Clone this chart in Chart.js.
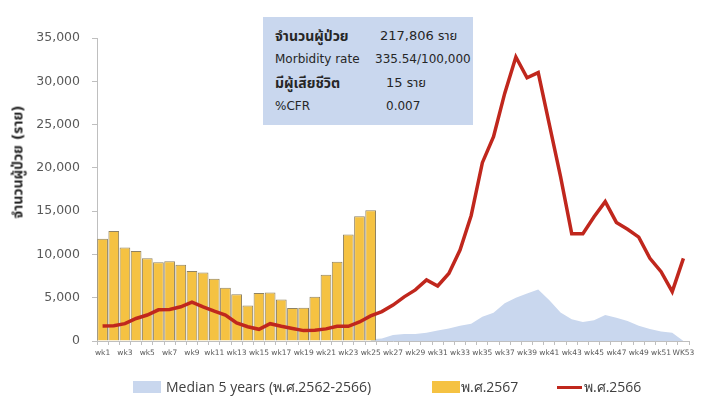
<!DOCTYPE html>
<html>
<head>
<meta charset="utf-8">
<script src="https://cdn.jsdelivr.net/npm/chart.js@4/dist/chart.umd.min.js"></script>
<style>
  html, body { margin: 0; padding: 0; background: #fff; }
  #wrap { position: relative; width: 703px; height: 401px; overflow: hidden;
          font-family: "DejaVu Sans", "Noto Sans Thai", "Tahoma", sans-serif; color: #262626; }
  #chart { position: absolute; left: 0; top: 0; }
  #yTitle { position: absolute; left: 18px; top: 162px; transform: translate(-50%, -50%) rotate(-90deg);
            white-space: nowrap; font-size: 14px; font-weight: bold; color: #262626; }
  #infoBox { position: absolute; left: 263px; top: 17px; width: 210px; height: 108px; background: #c9d7ee; }
  #infoBox div { position: absolute; white-space: nowrap; transform: translateY(-50%); }
  .legendItem { position: absolute; top: 387px; transform: translateY(-50%); font-family: "Open Sans", sans-serif;
                font-size: 14px; color: #404040; white-space: nowrap; }
  .swatch { position: absolute; }
</style>
</head>
<body>
<div id="wrap">
  <canvas id="chart" width="703" height="401"></canvas>
  <div id="yTitle">จำนวนผู้ป่วย (ราย)</div>
  <div id="infoBox"></div>
  <div id="legend"></div>
</div>
<script>
/* =========================
   DATA
   ========================= */

const weekLabels = [
  "wk1", "wk2", "wk3", "wk4", "wk5", "wk6", "wk7", "wk8", "wk9", "wk10",
  "wk11", "wk12", "wk13", "wk14", "wk15", "wk16", "wk17", "wk18", "wk19", "wk20",
  "wk21", "wk22", "wk23", "wk24", "wk25", "wk26", "wk27", "wk28", "wk29", "wk30",
  "wk31", "wk32", "wk33", "wk34", "wk35", "wk36", "wk37", "wk38", "wk39", "wk40",
  "wk41", "wk42", "wk43", "wk44", "wk45", "wk46", "wk47", "wk48", "wk49", "wk50",
  "wk51", "wk52", "WK53"
];

// พ.ศ.2567 (bars, wk1-wk25)
const cases2567 = [
  11800, 12700, 10800, 10400, 9550, 9100, 9200, 8800, 8100, 7900,
  7200, 6150, 5400, 4100, 5550, 5600, 4800, 3800, 3850, 5100,
  7650, 9150, 12300, 14400, 15100
];

// พ.ศ.2566 (line)
const cases2566 = [
  1730, 1770, 2000, 2600, 3000, 3600, 3650, 3950, 4500, 3950,
  3450, 3000, 2100, 1650, 1350, 2000, 1700, 1450, 1200, 1250,
  1400, 1700, 1700, 2200, 2900, 3400, 4150, 5100, 5900, 7050,
  6350, 7800, 10500, 14500, 20600, 23600, 28600, 32800, 30400, 31000,
  25000, 19000, 12400, 12400, 14350, 16100, 13700, 12900, 12000, 9550,
  8000, 5700, 9550
];

// Median 5 years (only visible part, right of the bars)
const median5y = [
  null, null, null, null, null, null, null, null, null, null,
  null, null, null, null, null, null, null, null, null, null,
  null, null, null, null, 200, 300, 700, 800, 800, 950,
  1200, 1450, 1750, 2000, 2800, 3250, 4350, 5000, 5500, 5950,
  4700, 3300, 2500, 2200, 2400, 3000, 2700, 2300, 1750, 1400,
  1100, 950, 0
];

const yTicks = [0, 5000, 10000, 15000, 20000, 25000, 30000, 35000];

const infoRows = [
  ["จำนวนผู้ป่วย", "217,806 ราย"],
  ["Morbidity rate", "335.54/100,000"],
  ["มีผู้เสียชีวิต", "15 ราย"],
  ["%CFR", "0.007"]
];

/* =========================
   INFO BOX
   ========================= */

const infoBox = document.getElementById("infoBox");
const rowY = [19, 42, 66, 89];
const valueX = [117, 112, 123, 123];
infoRows.forEach((r, i) => {
  const bold = i % 2 === 0;
  const a = document.createElement("div");
  a.textContent = r[0];
  a.style.left = "12px";
  a.style.top = rowY[i] + "px";
  a.style.fontSize = bold ? "14px" : "12px";
  a.style.fontWeight = bold ? "bold" : "normal";
  infoBox.appendChild(a);
  const b = document.createElement("div");
  b.textContent = r[1];
  b.style.left = valueX[i] + "px";
  b.style.top = rowY[i] + "px";
  b.style.fontSize = i === 0 || i === 2 ? "13px" : "12px";
  infoBox.appendChild(b);
});

/* =========================
   CHART
   ========================= */

const axisColor = "#bfbfbf";
const tickColor = "#595959";

const chart = new Chart(document.getElementById("chart"), {
  data: {
    labels: weekLabels,
    datasets: [
      {
        type: "line",
        label: "พ.ศ.2566",
        data: cases2566,
        borderColor: "#c0271d",
        backgroundColor: "#c0271d",
        borderWidth: 3.5,
        pointRadius: 0,
        tension: 0,
        order: 0
      },
      {
        type: "bar",
        label: "พ.ศ.2567",
        data: cases2567,
        backgroundColor: "#f5c242",
        borderColor: "#8f8262",
        borderWidth: 1,
        categoryPercentage: 1,
        barPercentage: 0.96,
        order: 1
      },
      {
        type: "line",
        label: "Median 5 years (พ.ศ.2562-2566)",
        data: median5y,
        backgroundColor: "#c9d7ee",
        borderColor: "#c9d7ee",
        borderWidth: 0,
        pointRadius: 0,
        fill: "origin",
        tension: 0,
        order: 2
      }
    ]
  },
  options: {
    responsive: false,
    animation: false,
    devicePixelRatio: 1,
    layout: { padding: { left: 0, right: 14, top: 38, bottom: 0 } },
    plugins: { legend: { display: false }, tooltip: { enabled: false } },
    scales: {
      x: {
        type: "category",
        offset: true,
        grid: { offset: true, drawOnChartArea: false, tickLength: 4, color: axisColor },
        border: { color: axisColor },
        ticks: {
          autoSkip: false,
          maxRotation: 0,
          padding: 4,
          color: tickColor,
          font: { family: "DejaVu Sans", size: 7.5 },
          callback: (v, i) => (i % 2 === 0 ? weekLabels[i] : "")
        },
        afterFit: (s) => { s.height = 60; }
      },
      y: {
        min: 0,
        max: 35000,
        afterBuildTicks: (s) => { s.ticks = yTicks.map(v => ({ value: v })); },
        grid: { drawOnChartArea: false, tickLength: 5, color: axisColor },
        border: { color: axisColor },
        ticks: {
          padding: 12,
          color: tickColor,
          font: { family: "DejaVu Sans", size: 12.5 },
          callback: (v) => v.toLocaleString("en-US")
        },
        afterFit: (s) => { s.width = 97; }
      }
    }
  }
});

/* =========================
   LEGEND
   ========================= */

const legend = document.getElementById("legend");
const legendPos = [
  { ds: 2, box: 133, text: 166 },
  { ds: 1, box: 432, text: 461 },
  { ds: 0, box: 557, text: 584 }
];
legendPos.forEach(p => {
  const d = chart.data.datasets[p.ds];
  const sw = document.createElement("div");
  sw.className = "swatch";
  sw.style.left = p.box + "px";
  sw.style.width = (p.ds === 0 ? 25 : 28) + "px";
  if (d.type === "line" && !d.fill) {
    sw.style.top = "386px";
    sw.style.height = "3px";
  } else {
    sw.style.top = "381px";
    sw.style.height = "12px";
  }
  sw.style.background = d.backgroundColor;
  legend.appendChild(sw);
  const t = document.createElement("div");
  t.className = "legendItem";
  t.style.left = p.text + "px";
  t.textContent = d.label;
  legend.appendChild(t);
});
</script>
</body>
</html>
